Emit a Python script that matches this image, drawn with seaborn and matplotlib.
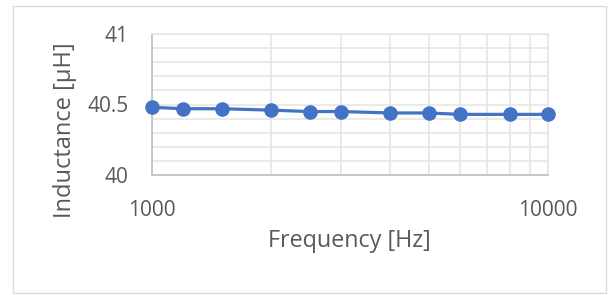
import matplotlib
matplotlib.use("Agg")
import matplotlib.pyplot as plt
import seaborn as sns
import pandas as pd
import numpy as np
from matplotlib.ticker import FixedLocator, NullFormatter, FixedFormatter
from matplotlib.patches import Rectangle

frequency = [1000, 1200, 1500, 2000, 2500, 3000, 4000, 5000, 6000, 8000, 10000]
inductance = [40.48, 40.47, 40.47, 40.46, 40.45, 40.45, 40.44, 40.44, 40.43, 40.43, 40.43]
x_ticks = [1000, 10000]
y_ticks = [40, 40.5, 41]
y_tick_labels = ["40", "40.5", "41"]

sns.set_theme(style="white")
plt.rcParams['font.family'] = ['Open Sans', 'DejaVu Sans']

df = pd.DataFrame({"Frequency": frequency, "Inductance": inductance})

fig = plt.figure(figsize=(6.10, 2.95), dpi=100)
ax = fig.add_axes([152/610, 1-175/295, (548-152)/610, (175-34)/295])

sns.lineplot(data=df, x="Frequency", y="Inductance", ax=ax, color="#4472C4",
             linewidth=2.3, marker="o", markersize=10.5, markeredgewidth=0,
             zorder=5, clip_on=False)

ax.set_xscale("log")
ax.set_xlim(1000, 10000)
ax.set_ylim(40, 41)

grid_c = "#e6e6e6"
ax.xaxis.set_major_locator(FixedLocator(x_ticks))
ax.xaxis.set_major_formatter(FixedFormatter([str(v) for v in x_ticks]))
ax.xaxis.set_minor_locator(FixedLocator([2000, 3000, 4000, 5000, 6000, 7000, 8000, 9000]))
ax.xaxis.set_minor_formatter(NullFormatter())
ax.yaxis.set_major_locator(FixedLocator(y_ticks))
ax.yaxis.set_major_formatter(FixedFormatter(y_tick_labels))
ax.yaxis.set_minor_locator(FixedLocator([40.1, 40.2, 40.3, 40.4, 40.6, 40.7, 40.8, 40.9]))

ax.grid(True, which="both", color=grid_c, linewidth=1.2)
ax.set_axisbelow(True)

for s in ["top", "right"]:
    ax.spines[s].set_visible(True)
    ax.spines[s].set_color(grid_c)
    ax.spines[s].set_linewidth(1.2)
for s in ["left", "bottom"]:
    ax.spines[s].set_color("#bfbfbf")
    ax.spines[s].set_linewidth(1.2)

ax.tick_params(axis="both", which="both", length=0, labelsize=15, labelcolor="#595959")
ax.tick_params(axis="y", pad=17)
ax.tick_params(axis="x", pad=18)

ax.set_xlabel("Frequency [Hz]", fontsize=16.8, color="#595959")
ax.set_ylabel("Inductance [µH]", fontsize=17, color="#595959")
ax.xaxis.set_label_coords((349-152)/396, (175-241)/141)
ax.yaxis.set_label_coords((65-152)/396, (175-130)/141)
ax.xaxis.label.set_va("center")
ax.yaxis.label.set_va("center")

fig.patches.append(Rectangle((13/610, 1-293/295), (606-13)/610, (293-6)/295,
                             transform=fig.transFigure, fill=False,
                             edgecolor="#d9d9d9", linewidth=1.0))

fig.savefig("out.png", dpi=100, facecolor="white")
